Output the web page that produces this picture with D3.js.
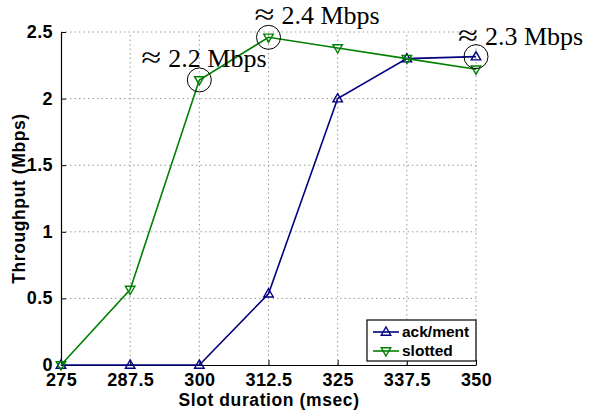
<!DOCTYPE html>
<html>
<head>
<meta charset="utf-8">
<script src="https://cdn.jsdelivr.net/npm/d3@7"></script>
<style>
body { margin: 0; background: #fff; }
svg { display: block; }
.tick text { font-family: "Liberation Sans", Arial, sans-serif; font-weight: bold; font-size: 18px; letter-spacing: 0.4px; fill: #000; }
.grid line { stroke: #999; stroke-dasharray: 1.5,3; }
.ann { font-family: "Liberation Serif", "Times New Roman", serif; font-size: 26px; fill: #000; }
.lbl { font-family: "Liberation Sans", Arial, sans-serif; font-weight: bold; font-size: 17.5px; letter-spacing: 0.6px; }
</style>
</head>
<body>
<svg id="chart"></svg>
<script>
const slotDur = [275, 287.5, 300, 312.5, 325, 337.5, 350];
const ackment = [0, 0, 0, 0.535, 2.0, 2.3, 2.315];
const slotted = [0, 0.567, 2.14, 2.46, 2.38, 2.3, 2.22];
const yTicks = [0, 0.5, 1, 1.5, 2, 2.5];
const yTickLabels = ["0", "0.5", "1", "1.5", "2", "2.5"];
const xTickLabels = ["275", "287.5", "300", "312.5", "325", "337.5", "350"];
// annotated points: [series, index, label]
const notes = [
  ["slotted", 2, "2.2 Mbps"],
  ["slotted", 3, "2.4 Mbps"],
  ["ackment", 6, "2.3 Mbps"]
];

const width = 590, height = 415;
const margin = {left: 61, right: 114, top: 32, bottom: 50};

const svg = d3.select("#chart").attr("width", width).attr("height", height);

var x = d3.scaleLinear().domain([275, 350]).range([margin.left, width - margin.right]);
var y = d3.scaleLinear().domain([0, 2.5]).range([height - margin.bottom, margin.top]);

// grid
svg.append("g").attr("class", "grid")
  .selectAll("line.v").data(slotDur.slice(1)).enter().append("line")
  .attr("x1", d => x(d)).attr("x2", d => x(d))
  .attr("y1", y(0)).attr("y2", y(2.5));
svg.append("g").attr("class", "grid")
  .selectAll("line.h").data(yTicks.slice(1)).enter().append("line")
  .attr("x1", x(275)).attr("x2", x(350))
  .attr("y1", d => y(d)).attr("y2", d => y(d));

// axes
var xAxis = d3.axisBottom(x).tickValues(slotDur)
  .tickFormat((d, i) => xTickLabels[i]).tickSizeInner(-5).tickSizeOuter(0).tickPadding(8);
var gx = svg.append("g").attr("transform", `translate(0,${y(0)})`).call(xAxis);
gx.select(".domain").attr("stroke", "#000").attr("stroke-width", 1.2);

var yAxis = d3.axisLeft(y).tickValues(yTicks)
  .tickFormat((d, i) => yTickLabels[i]).tickSizeInner(-5).tickSizeOuter(0).tickPadding(8);
var gy = svg.append("g").attr("transform", `translate(${x(275)},0)`).call(yAxis);
gy.select(".domain").attr("stroke", "#000").attr("stroke-width", 1.2);
gy.selectAll(".tick text").attr("dy", "0.3em");

// axis titles
svg.append("text").attr("class", "lbl")
  .attr("x", 269).attr("y", 406)
  .attr("text-anchor", "middle")
  .text("Slot duration (msec)");
svg.append("text").attr("class", "lbl")
  .attr("transform", `translate(25,${(y(0) + y(2.5)) / 2}) rotate(-90)`)
  .attr("text-anchor", "middle")
  .text("Throughput (Mbps)");

const series = [
  {key: "ackment", name: "ack/ment", values: ackment, color: "#000080", up: true},
  {key: "slotted", name: "slotted", values: slotted, color: "#008000", up: false}
];

var line = d3.line().x((d, i) => x(slotDur[i])).y(d => y(d));

function tri(up, s) {
  return up ? `M0,${-s}L${s * 0.95},${s * 0.65}L${-s * 0.95},${s * 0.65}Z`
            : `M0,${s}L${s * 0.95},${-s * 0.65}L${-s * 0.95},${-s * 0.65}Z`;
}

series.forEach(sr => {
  svg.append("path").datum(sr.values)
    .attr("d", line)
    .attr("fill", "none").attr("stroke", sr.color).attr("stroke-width", 1.6);
  svg.selectAll(null).data(sr.values).enter().append("path")
    .attr("transform", (d, i) => `translate(${x(slotDur[i])},${y(d)})`)
    .attr("d", tri(sr.up, 5))
    .attr("fill", "none").attr("stroke", sr.color).attr("stroke-width", 1.4);
});

// circles + annotations
const annPos = [
  {dx: -58, dy: -13},
  {dx: -14, dy: -13},
  {dx: -18, dy: -12}
];
notes.forEach((n, k) => {
  var vals = n[0] === "slotted" ? slotted : ackment;
  var cx = x(slotDur[n[1]]), cy = y(vals[n[1]]);
  svg.append("circle").attr("cx", cx).attr("cy", cy).attr("r", 12)
    .attr("fill", "none").attr("stroke", "#000").attr("stroke-width", 1);
  var tx = cx + annPos[k].dx, ty = cy + annPos[k].dy;
  // wide math-style approx sign
  svg.append("text").attr("class", "ann")
    .attr("transform", `translate(${tx},${ty}) scale(1.4,1.1)`)
    .text("\u2248");
  svg.append("text").attr("class", "ann")
    .attr("x", tx + 27).attr("y", ty)
    .text(n[2]);
});

// legend
var lg = svg.append("g").attr("transform", "translate(367,320)");
lg.append("rect").attr("width", 109).attr("height", 41)
  .attr("fill", "#fff").attr("stroke", "#000").attr("stroke-width", 1.2);
series.forEach((sr, i) => {
  var ly = 12 + i * 19;
  lg.append("line").attr("x1", 6).attr("x2", 32).attr("y1", ly).attr("y2", ly)
    .attr("stroke", sr.color).attr("stroke-width", 1.6);
  lg.append("path").attr("transform", `translate(19,${ly})`).attr("d", tri(sr.up, 5))
    .attr("fill", "none").attr("stroke", sr.color).attr("stroke-width", 1.4);
  lg.append("text").attr("x", 35).attr("y", ly + 5)
    .style("font-family", "Liberation Sans, Arial, sans-serif")
    .style("font-weight", "bold").style("font-size", "15.5px")
    .text(sr.name);
});
</script>
</body>
</html>
